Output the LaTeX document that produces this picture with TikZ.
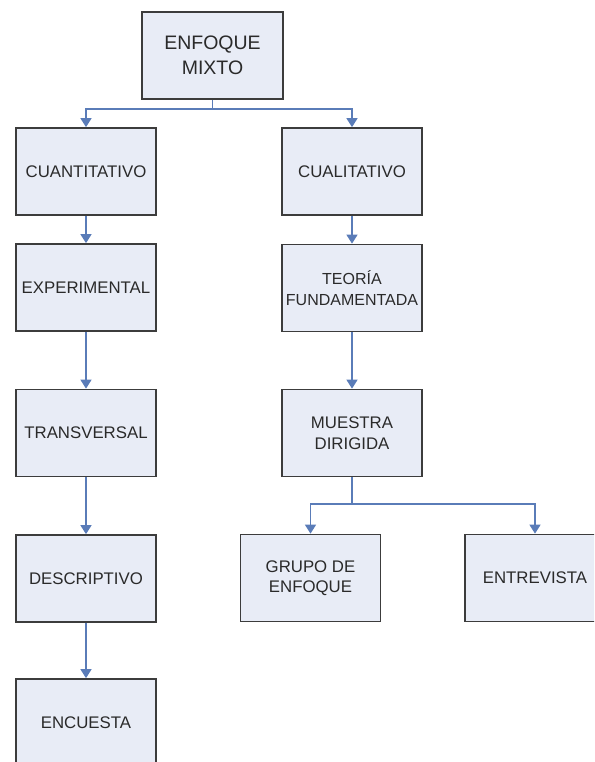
\documentclass[tikz,border=0pt]{standalone}
\usepackage{fontspec}
\setmainfont{Liberation Sans}
\usetikzlibrary{arrows.meta}
\definecolor{boxfill}{HTML}{E8ECF6}
\definecolor{boxline}{HTML}{3C3C3C}
\definecolor{conncol}{HTML}{5A7CB8}
\definecolor{txtcol}{HTML}{2A2A2A}
\tikzset{
  box/.style={draw=boxline, fill=boxfill, line width=1.7pt, rectangle,
    minimum width=140pt, minimum height=87pt, align=center, text=txtcol,
    font=\fontsize{16.8}{20.5}\selectfont, inner sep=1pt},
  bigbox/.style={box, minimum width=141pt, font=\fontsize{19.5}{25}\selectfont},
  smallbox/.style={box, font=\fontsize{16}{20.5}\selectfont},
  conn/.style={draw=conncol, line width=1.4pt},
  arr/.style={conn, -{Triangle[length=9pt,width=11pt]}}
}
\begin{document}
\begin{tikzpicture}[x=1pt,y=-1pt]
\useasboundingbox (0,0) rectangle (594,762);
\clip (0,0) rectangle (594,762);
\node[bigbox] (mixto) at (212.5,55.5) {ENFOQUE\\MIXTO};
\node[box] (cuanti) at (86,171.5) {CUANTITATIVO};
\node[box] (exper) at (86,287.5) {EXPERIMENTAL};
\node[box] (trans) at (86,433) {TRANSVERSAL};
\node[box] (descr) at (86,578.5) {DESCRIPTIVO};
\node[box] (encu) at (86,722.5) {ENCUESTA};
\node[box] (cuali) at (352,171.5) {CUALITATIVO};
\node[smallbox] (teoria) at (352,288) {TEORÍA\\FUNDAMENTADA};
\node[box] (muestra) at (352,433) {MUESTRA\\DIRIGIDA};
\node[box] (grupo) at (310.5,578) {GRUPO DE\\ENFOQUE};
\node[box] (entre) at (535,578) {ENTREVISTA};
\coordinate (j1) at (212.5,109);
\coordinate (j2) at (352,504);
\draw[conn] (mixto.south) -- (j1);
\draw[arr] (j1) -| (cuanti.north);
\draw[arr] (j1) -| (cuali.north);
\draw[arr] (cuanti.south) -- (exper.north);
\draw[arr] (exper.south) -- (trans.north);
\draw[arr] (trans.south) -- (descr.north);
\draw[arr] (descr.south) -- (encu.north);
\draw[arr] (cuali.south) -- (teoria.north);
\draw[arr] (teoria.south) -- (muestra.north);
\draw[conn] (muestra.south) -- (j2);
\draw[arr] (j2) -| (grupo.north);
\draw[arr] (j2) -| (entre.north);
\end{tikzpicture}
\end{document}
